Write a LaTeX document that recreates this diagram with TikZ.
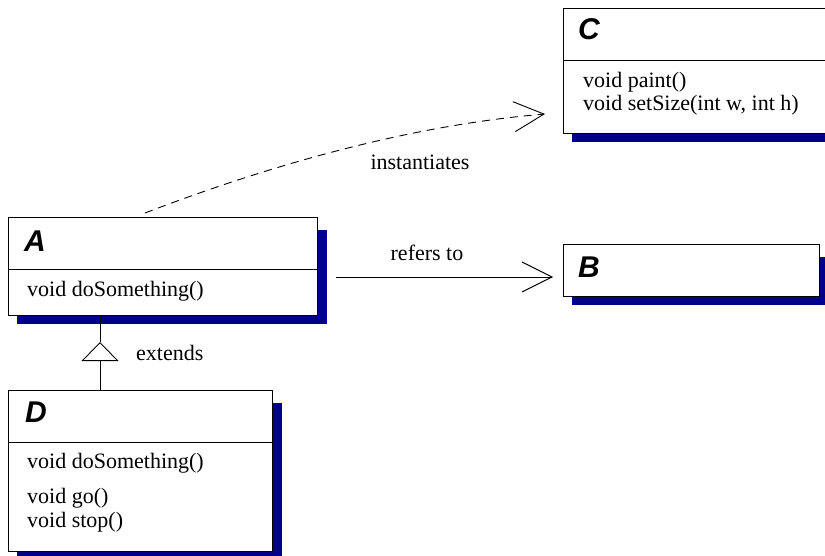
\documentclass[tikz,border=0pt]{standalone}
\usepackage{fontspec}
\setmainfont{Liberation Serif}
\newfontfamily\clsfont{Liberation Sans}
\usetikzlibrary{arrows.meta,backgrounds}
\definecolor{shadowblue}{RGB}{0,0,139}
\tikzset{cls/.style={draw,fill=white,line width=0.9pt,anchor=north west,inner sep=0pt,outer sep=0pt},
clsname/.style={anchor=base west,inner sep=0pt,font=\clsfont\bfseries\itshape\fontsize{30}{30}\selectfont},
op/.style={anchor=base west,inner sep=0pt,font=\fontsize{22}{24}\selectfont},
lbl/.style={anchor=base,inner sep=0pt,font=\fontsize{22}{24}\selectfont},
barb/.style={-{Straight Barb[length=30pt,width=30pt]},line width=0.9pt}}

\begin{document}
\begin{tikzpicture}[x=1pt,y=-1pt]
		\useasboundingbox (0,0) rectangle (825,556);

		\node[cls,minimum width=309pt,minimum height=98pt] (A) at (8,217) {};
		\node[cls,minimum width=256pt,minimum height=52pt] (B) at (563,244) {};
		\node[cls,minimum width=270pt,minimum height=125pt] (C) at (563,8) {};
		\node[cls,minimum width=264pt,minimum height=161pt] (D) at (8,390) {};

		\begin{scope}[on background layer]
			\foreach \c in {A,B,C,D}
				\fill[shadowblue] ([shift={(9,13)}]\c.north west) rectangle ([shift={(10,9)}]\c.south east);
		\end{scope}

		\foreach \c in {A,C,D}
			\draw[line width=0.9pt] ([yshift=-52pt]\c.north west) -- ([yshift=-52pt]\c.north east);

		\node[clsname] (Aname) at ([shift={(16,35)}]A.north west) {A};
		\node[clsname] (Bname) at ([shift={(15,33)}]B.north west) {B};
		\node[clsname] (Cname) at ([shift={(15,32)}]C.north west) {C};
		\node[clsname] (Dname) at ([shift={(17,32)}]D.north west) {D};

		\node[op] (Aop) at ([shift={(19,80)}]A.north west) {void doSomething()};
		\node[op] (Cop1) at ([shift={(20,80)}]C.north west) {void paint()};
		\node[op] (Cop2) at ([shift={(20,103)}]C.north west) {void setSize(int w, int h)};
		\node[op] (Dop1) at ([shift={(19,78)}]D.north west) {void doSomething()};
		\node[op] (Dop2) at ([shift={(19,113)}]D.north west) {void go()};
		\node[op] (Dop3) at ([shift={(19,137)}]D.north west) {void stop()};

		\draw[barb,shorten <=19pt] ([yshift=-7pt]B.west -| A.east) -- ([xshift=-10pt,yshift=-7pt]B.west);
		\draw[barb,dash pattern=on 8pt off 6pt] ([shift={(-17.5,-4)}]A.north) .. controls +(149,-57) and +(-118,10) .. ([shift={(-18,-19)}]C.south west);

		\coordinate (gen) at ([shift={(92,27)}]A.south west);
		\draw[line width=0.9pt] (gen) -- ([xshift=92pt]A.south west);
		\draw[-{Triangle[open,length=19pt,width=37pt]},line width=0.9pt] ([xshift=92pt]D.north west) -- (gen);

		\node[lbl] (refers) at (427,261) {refers to};
		\node[lbl] (inst) at (420,170) {instantiates};
		\node[op] (ext) at (136,360) {extends};
	\end{tikzpicture}
\end{document}
